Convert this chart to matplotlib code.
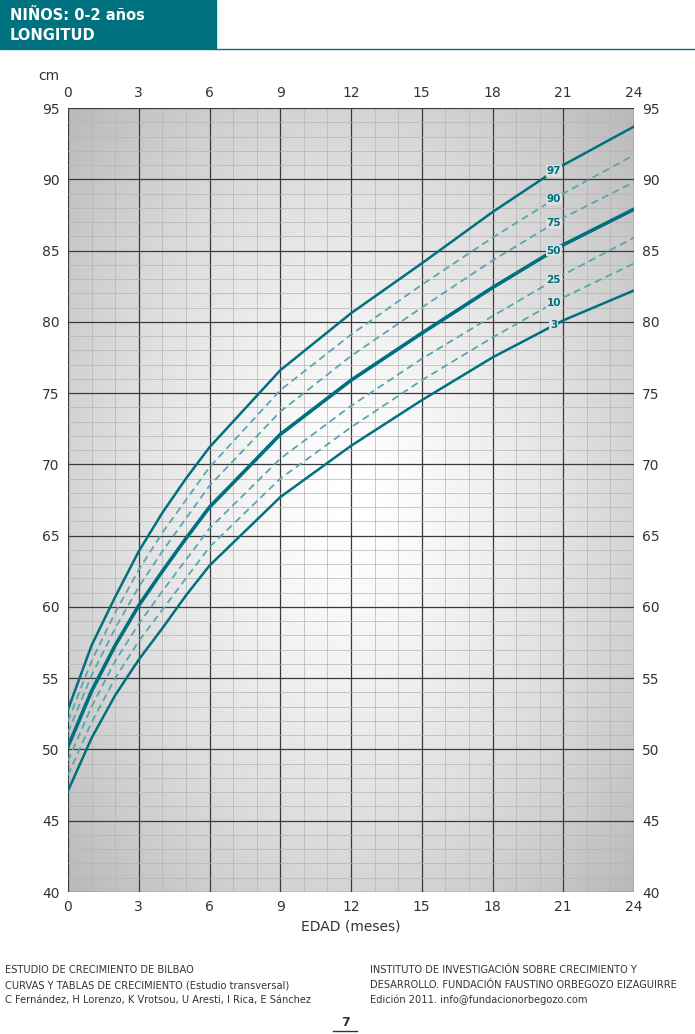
import numpy as np
import matplotlib
matplotlib.use("Agg")
import matplotlib.pyplot as plt

months = [0, 1, 2, 3, 4, 5, 6, 9, 12, 15, 18, 21, 24]
p3  = [47.1, 50.8, 53.8, 56.3, 58.5, 60.8, 62.9, 67.7, 71.3, 74.5, 77.5, 80.1, 82.2]
p10 = [48.2, 51.9, 55.0, 57.6, 59.8, 62.0, 64.2, 69.0, 72.6, 75.9, 78.9, 81.7, 84.1]
p25 = [49.2, 53.0, 56.2, 58.8, 61.1, 63.3, 65.5, 70.4, 74.1, 77.4, 80.4, 83.3, 85.9]
p50 = [50.2, 54.1, 57.3, 60.1, 62.5, 64.8, 67.0, 72.1, 75.9, 79.2, 82.4, 85.4, 87.9]
p75 = [51.2, 55.2, 58.5, 61.4, 63.9, 66.2, 68.5, 73.7, 77.6, 81.0, 84.3, 87.3, 89.8]
p90 = [52.0, 56.2, 59.6, 62.6, 65.2, 67.5, 69.8, 75.2, 79.1, 82.6, 85.9, 89.0, 91.7]
p97 = [52.8, 57.3, 60.7, 63.9, 66.6, 69.0, 71.2, 76.6, 80.6, 84.1, 87.7, 91.0, 93.7]
labels = ["3", "10", "25", "50", "75", "90", "97"]
xticks = [0, 3, 6, 9, 12, 15, 18, 21, 24]
yticks = list(range(40, 96, 5))

teal = "#00707f"
dteal = "#5aa6b0"
fig = plt.figure(figsize=(6.95, 10.34), dpi=100)
ax = fig.add_axes([68/695, 1-892/1034, 566/695, 784/1034])

gx, gy = np.meshgrid(np.linspace(-1, 1, 300), np.linspace(-1, 1, 400))
r = np.sqrt(gx**2 + gy**2)
bg = np.clip(1 - 0.17 * r**1.4, 0, 1)
ax.imshow(bg, cmap="gray", vmin=0, vmax=1, extent=[0, 24, 40, 95], aspect="auto", zorder=0)

for m in range(25):
    ax.axvline(m, color="#3a3a3a" if m % 3 == 0 else "#b4b4b4", lw=0.9 if m % 3 == 0 else 0.5, zorder=1)
for v in range(40, 96):
    ax.axhline(v, color="#3a3a3a" if v % 5 == 0 else "#b4b4b4", lw=0.9 if v % 5 == 0 else 0.5, zorder=1)

series = [p3, p10, p25, p50, p75, p90, p97]
bgc = "#dedede"
for lab, s in zip(labels, series):
    solid = lab in ("3", "50", "97")
    ax.plot(months, s, color=teal if solid else dteal, lw=2.6 if lab == "50" else (1.8 if solid else 1.3),
            ls="-" if solid else (0, (4, 2.5)), zorder=3)
    yl = np.interp(20.6, months, s)
    ax.text(20.6, yl, lab, color=teal, fontsize=7.5, fontweight="bold", ha="center", va="center", zorder=4,
            bbox=dict(facecolor=bgc, edgecolor="none", pad=0.6))

ax.set_xlim(0, 24)
ax.set_ylim(40, 95)
ax.set_xticks(xticks)
ax.set_yticks(yticks)
ax.tick_params(length=0, labelsize=10, colors="#333333", pad=6, top=True, labeltop=True, right=True, labelright=True)
for sp in ax.spines.values():
    sp.set_visible(False)
ax.set_xlabel("EDAD (meses)", fontsize=10, color="#333333", labelpad=4)
fig.text(38/695, 1-76/1034, "cm", fontsize=10, color="#333333", va="center")

fig.patches.append(plt.Rectangle((0, 1-49/1034), 216/695, 49/1034, transform=fig.transFigure, color="#00727f"))
fig.add_artist(plt.Line2D([216/695, 1], [1-49/1034]*2, color="#00727f", lw=1, transform=fig.transFigure))
fig.text(10/695, 1-15/1034, "NIÑOS: 0-2 años", color="white", fontsize=10.5, fontweight="bold", va="center")
fig.text(10/695, 1-35/1034, "LONGITUD", color="white", fontsize=10.5, fontweight="bold", va="center")

fs = 7.1
fig.text(5/695, 1-970/1034, "ESTUDIO DE CRECIMIENTO DE BILBAO", fontsize=fs, va="center", color="#333333")
fig.text(5/695, 1-985/1034, "CURVAS Y TABLAS DE CRECIMIENTO (Estudio transversal)", fontsize=fs, va="center", color="#333333")
fig.text(5/695, 1-1000/1034, "C Fernández, H Lorenzo, K Vrotsou, U Aresti, I Rica, E Sánchez", fontsize=fs, va="center", color="#333333")
fig.text(370/695, 1-970/1034, "INSTITUTO DE INVESTIGACIÓN SOBRE CRECIMIENTO Y", fontsize=fs, va="center", color="#333333")
fig.text(370/695, 1-985/1034, "DESARROLLO. FUNDACIÓN FAUSTINO ORBEGOZO EIZAGUIRRE", fontsize=fs, va="center", color="#333333")
fig.text(370/695, 1-1000/1034, "Edición 2011. info@fundacionorbegozo.com", fontsize=fs, va="center", color="#333333")
fig.text(345/695, 1-1023/1034, "7", fontsize=9, fontweight="bold", ha="center", va="center", color="#333333")
fig.add_artist(plt.Line2D([333/695, 357/695], [1-1031/1034]*2, color="#333333", lw=1, transform=fig.transFigure))

fig.savefig("out.png", dpi=100)
